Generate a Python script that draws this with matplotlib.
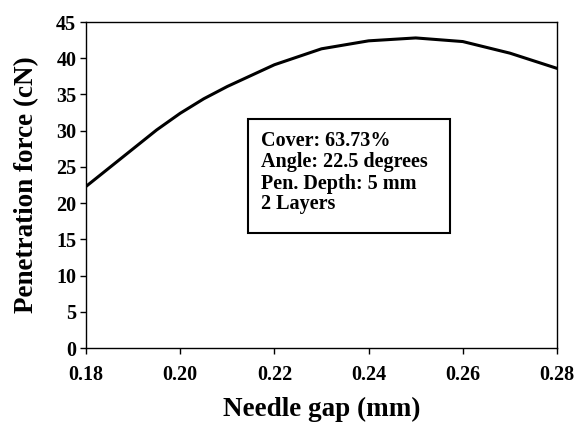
import matplotlib
matplotlib.use("Agg")
import matplotlib.pyplot as plt
from matplotlib.patches import Rectangle

needle_gap = [0.18, 0.19, 0.195, 0.20, 0.205, 0.21, 0.22, 0.23, 0.24, 0.25, 0.26, 0.27, 0.28]
force = [22.3, 27.5, 30.1, 32.4, 34.4, 36.1, 39.1, 41.3, 42.4, 42.8, 42.3, 40.7, 38.6]
x_ticks = [0.18, 0.20, 0.22, 0.24, 0.26, 0.28]
y_ticks = [0, 5, 10, 15, 20, 25, 30, 35, 40, 45]
box_lines = ["Cover: 63.73%", "Angle: 22.5 degrees", "Pen. Depth: 5 mm", "2 Layers"]

plt.rcParams['font.family'] = ['Liberation Serif', 'DejaVu Serif']
plt.rcParams['font.weight'] = 'bold'

W, H = 582, 425
fig = plt.figure(figsize=(W/100, H/100), dpi=100)
L, R, T, B = 86, 557, 22, 348
ax = fig.add_axes([L/W, 1-B/H, (R-L)/W, (B-T)/H])
ax.plot(needle_gap, force, color='black', lw=2.2, solid_joinstyle='round')
ax.set_xlim(0.18, 0.28)
ax.set_ylim(0, 45)
ax.set_xticks(x_ticks)
ax.set_xticklabels([f"{t:.2f}" for t in x_ticks])
ax.set_yticks(y_ticks)
ax.tick_params(direction='out', length=4, width=1, labelsize=14.5)
ax.tick_params(axis='x', pad=8)
ax.tick_params(axis='y', pad=3)
for lab in ax.get_xticklabels() + ax.get_yticklabels():
    lab.set_fontweight('bold')
for s in ax.spines.values():
    s.set_linewidth(1.0)
ax.set_xlabel("Needle gap (mm)", fontsize=19.5, fontweight='bold', labelpad=9)
ax.set_ylabel("Penetration force (cN)", fontsize=19.5, fontweight='bold', labelpad=12)

def fx(px):
    return (px - L) / (R - L)

def fy(py):
    return (B - py) / (B - T)

ax.add_patch(Rectangle((fx(248), fy(233)), fx(450) - fx(248), fy(119) - fy(233),
                       transform=ax.transAxes, facecolor='white', edgecolor='black',
                       linewidth=1.5, zorder=3))
for i, line in enumerate(box_lines):
    ax.text(fx(261), fy(146.5 + 21 * i), line, transform=ax.transAxes, fontsize=14.5,
            fontweight='bold', va='baseline', ha='left', zorder=4)

fig.savefig("out.png", dpi=100)
